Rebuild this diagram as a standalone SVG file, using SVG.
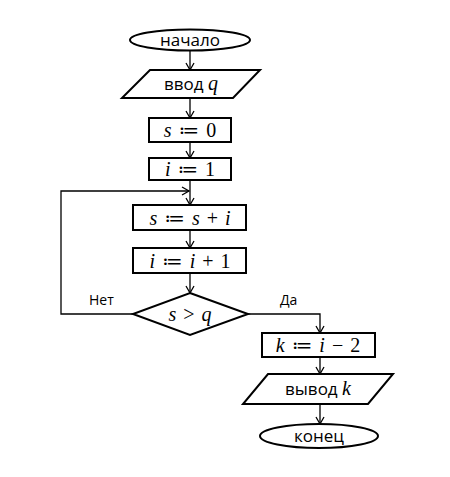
<svg xmlns="http://www.w3.org/2000/svg" width="450" height="477" viewBox="0 0 450 477">
<style>
.s{fill:#fff;stroke:#000;stroke-width:2}
.c{fill:none;stroke:#000;stroke-width:1.3}
.t{font-family:"Open Sans","Liberation Sans",sans-serif;font-size:17px;fill:#000}
.m{font-family:"Liberation Serif","DejaVu Serif",serif;font-size:20px;fill:#000;word-spacing:2px}
.i{font-style:italic}
.l{font-family:"Open Sans","Liberation Sans",sans-serif;font-size:14px;fill:#000}
</style>
<defs>
<marker id="a" markerWidth="10" markerHeight="10" refX="8" refY="5" orient="auto" markerUnits="userSpaceOnUse">
<path d="M1,1 L8,5 L1,9" fill="none" stroke="#000" stroke-width="1.3"/>
</marker>
</defs>
<g id="connectors">
<line class="c" x1="190" y1="50" x2="190" y2="70" marker-end="url(#a)"/>
<line class="c" x1="190" y1="98" x2="190" y2="118" marker-end="url(#a)"/>
<line class="c" x1="190" y1="142" x2="190" y2="158" marker-end="url(#a)"/>
<line class="c" x1="190" y1="180" x2="190" y2="205" marker-end="url(#a)"/>
<line class="c" x1="190" y1="230" x2="190" y2="248" marker-end="url(#a)"/>
<line class="c" x1="190" y1="273" x2="190" y2="293" marker-end="url(#a)"/>
<polyline class="c" points="133,314 61,314 61,191 189,191" marker-end="url(#a)"/>
<polyline class="c" points="248,314 320,314 320,333" marker-end="url(#a)"/>
<line class="c" x1="320" y1="357" x2="320" y2="374" marker-end="url(#a)"/>
<line class="c" x1="320" y1="404" x2="320" y2="424" marker-end="url(#a)"/>
<text class="l" x="89" y="305">Нет</text>
<text class="l" x="280" y="305">Да</text>
</g>
<g id="start">
<ellipse class="s" cx="190" cy="40" rx="60" ry="10.5"/>
<text class="t" x="190" y="46" text-anchor="middle">начало</text>
</g>
<g id="input">
<polygon class="s" points="150,70 260,70 233,98 122,98"/>
<text class="t" x="191" y="90" text-anchor="middle">ввод <tspan class="m i">q</tspan></text>
</g>
<g id="s0">
<rect class="s" x="149" y="118" width="82" height="24"/>
<text class="m" x="190" y="137" text-anchor="middle"><tspan class="i">s</tspan> ≔ 0</text>
</g>
<g id="i1">
<rect class="s" x="149" y="158" width="82" height="22"/>
<text class="m" x="190" y="176" text-anchor="middle"><tspan class="i">i</tspan> ≔ 1</text>
</g>
<g id="ssi">
<rect class="s" x="133" y="205" width="113" height="25"/>
<text class="m" x="190" y="225" text-anchor="middle"><tspan class="i">s</tspan> ≔ <tspan class="i">s</tspan> + <tspan class="i">i</tspan></text>
</g>
<g id="ii1">
<rect class="s" x="133" y="248" width="113" height="25"/>
<text class="m" x="190" y="268" text-anchor="middle"><tspan class="i">i</tspan> ≔ <tspan class="i">i</tspan> + 1</text>
</g>
<g id="cond">
<polygon class="s" points="190,293 248,314 190,335 133,314"/>
<text class="m" x="190" y="321" text-anchor="middle"><tspan class="i">s</tspan> &gt; <tspan class="i">q</tspan></text>
</g>
<g id="k">
<rect class="s" x="262" y="333" width="113" height="24"/>
<text class="m" x="318" y="352" text-anchor="middle"><tspan class="i">k</tspan> ≔ <tspan class="i">i</tspan> − 2</text>
</g>
<g id="output">
<polygon class="s" points="268,374 393,374 368,404 243,404"/>
<text class="t" x="318" y="395" text-anchor="middle">вывод <tspan class="m i">k</tspan></text>
</g>
<g id="end">
<ellipse class="s" cx="319" cy="436" rx="59" ry="12"/>
<text class="t" x="319" y="442" text-anchor="middle">конец</text>
</g>
</svg>
